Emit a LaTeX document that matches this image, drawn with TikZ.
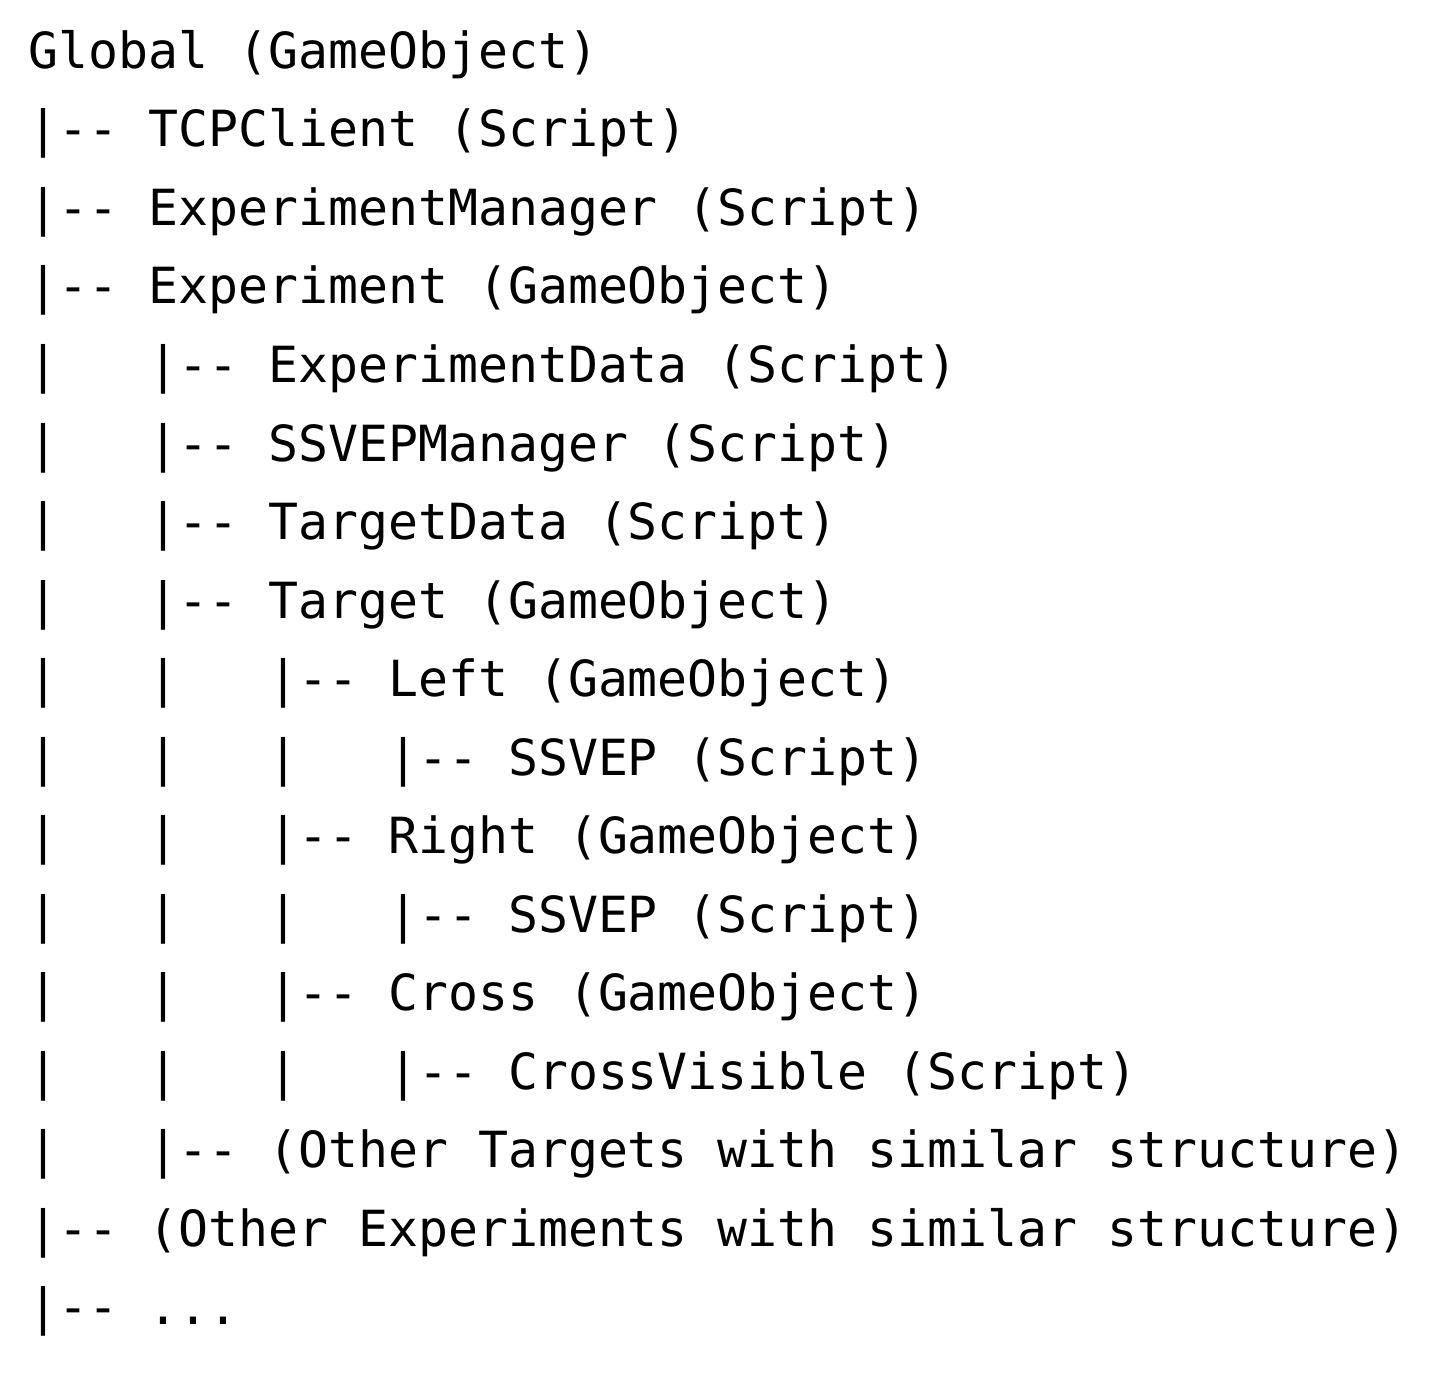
\documentclass[tikz,border=0pt]{standalone}
\usepackage{fontspec}
\setmonofont{DejaVu Sans Mono}

\tikzset{
  treeline/.style={anchor=base west, inner sep=0pt, font=\ttfamily\fontsize{24.9pt}{24.9pt}\selectfont}
}

\begin{document}
\begin{tikzpicture}
\fill[white] (0pt, 0pt) rectangle (720pt, -688pt);
\useasboundingbox (0pt, 0pt) rectangle (720pt, -688pt);

% one node per printed line of the tree
\foreach \txt [count=\i from 0] in {
  Global (GameObject),
  |-{}- TCPClient (Script),
  |-{}- ExperimentManager (Script),
  |-{}- Experiment (GameObject),
  |~~~|-{}- ExperimentData (Script),
  |~~~|-{}- SSVEPManager (Script),
  |~~~|-{}- TargetData (Script),
  |~~~|-{}- Target (GameObject),
  |~~~|~~~|-{}- Left (GameObject),
  |~~~|~~~|~~~|-{}- SSVEP (Script),
  |~~~|~~~|-{}- Right (GameObject),
  |~~~|~~~|~~~|-{}- SSVEP (Script),
  |~~~|~~~|-{}- Cross (GameObject),
  |~~~|~~~|~~~|-{}- CrossVisible (Script),
  |~~~|-{}- (Other Targets with similar structure),
  |-{}- (Other Experiments with similar structure),
  |-{}- .{}.{}.}
  \node[treeline] (row\i) at (14pt, {-34.15pt-\i*39.27pt}) {\txt};

\end{tikzpicture}
\end{document}
